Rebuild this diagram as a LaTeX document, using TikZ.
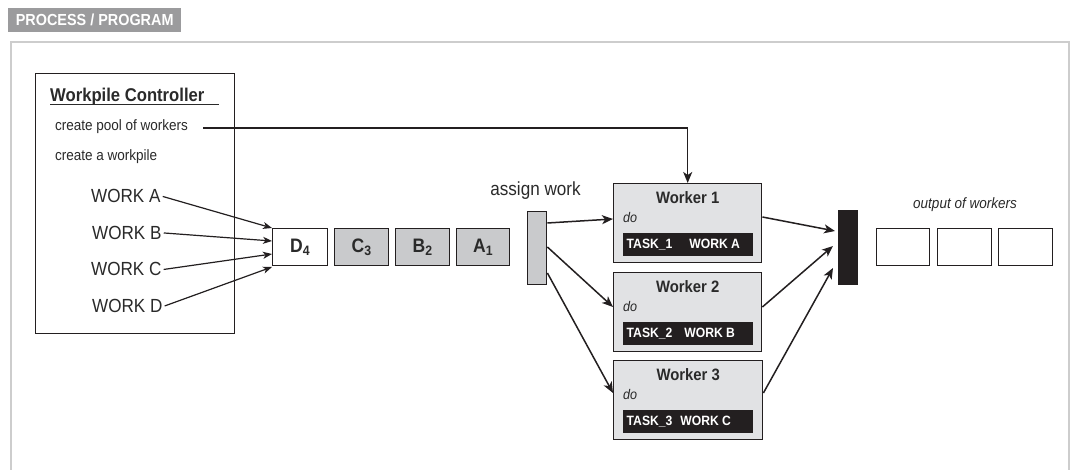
\documentclass[tikz,border=0pt]{standalone}
\usepackage{fontspec}
\setmainfont{Liberation Sans}[FakeStretch=0.9]
\usetikzlibrary{arrows.meta,calc}
\definecolor{ink}{HTML}{231F20}
\definecolor{txt}{HTML}{2A2A2A}
\definecolor{hdrgray}{HTML}{9B9B9D}
\definecolor{framegray}{HTML}{CDCDCD}
\definecolor{qgray}{HTML}{C9CACC}
\definecolor{wgray}{HTML}{E1E2E4}
\newcommand{\fs}[1]{\fontsize{#1}{#1}\selectfont}
\begin{document}
\begin{tikzpicture}[x=1pt,y=-1pt,
  boxst/.style={draw=ink, line width=1.4pt, inner sep=0pt, anchor=north west},
  lbl/.style={inner sep=0pt, text=txt},
  conn/.style={draw=ink, line width=1.5pt, -{Stealth[length=11pt,width=9pt,inset=3pt]}},
  connsm/.style={draw=ink, line width=1.2pt, -{Stealth[length=9pt,width=7pt,inset=2.5pt]}},
  qbox/.style={boxst, minimum height=37pt, font=\bfseries\fs{19.5}, text=txt},
  wbox/.style={boxst, fill=wgray, minimum width=148pt, minimum height=79pt},
  wtitle/.style={lbl, anchor=base, font=\bfseries\fs{16.5}},
  wdo/.style={lbl, anchor=base west, font=\itshape\fs{14}},
  taskbar/.style={fill=ink, inner sep=0pt, anchor=north west, minimum width=130pt, minimum height=23pt},
  tasktxt/.style={inner sep=0pt, anchor=west, text=white, font=\bfseries\fs{13.5}},
  worktxt/.style={lbl, anchor=base west, font=\fs{19}},
  small/.style={lbl, anchor=base west, font=\fs{15}}
]
\useasboundingbox (0,0) rectangle (1072,470);
\fill[white] (0,0) rectangle (1072,470);

% header
\node[fill=hdrgray, anchor=north west, minimum width=173pt, minimum height=24pt, inner sep=0pt,
      text=white, font=\bfseries\fs{16}] (hdr) at (8,8) {PROCESS / PROGRAM};
% frame
\draw[framegray, line width=2pt] (10.5,475) -- (10.5,42) -- (1069,42) -- (1069,475);

% controller
\node[boxst, minimum width=199pt, minimum height=260pt] (ctrl) at (35,73) {};
\node[lbl, anchor=base west, font=\bfseries\fs{18.5}] (ctitle) at (50,102) {Workpile Controller};
\coordinate (ulA) at (50,104.5);
\coordinate (ulB) at (219,104.5);
\draw[txt, line width=1.2pt] (ulA) -- (ulB);
\node[small] (pool) at (55,131) {create pool of workers};
\node[small] (pile) at (55,161) {create a workpile};
\node[worktxt] (wa) at (91,203) {WORK A};
\node[worktxt] (wb) at (92,239.5) {WORK B};
\node[worktxt] (wc) at (91,276) {WORK C};
\node[worktxt] (wd) at (92,312.5) {WORK D};

% queue
\node[qbox, minimum width=55pt, fill=white] (d4) at (272,228) {D\textsubscript{4}};
\node[qbox, minimum width=54pt, fill=qgray] (c3) at (334,228) {C\textsubscript{3}};
\node[qbox, minimum width=54pt, fill=qgray] (b2) at (395,228) {B\textsubscript{2}};
\node[qbox, minimum width=53pt, fill=qgray] (a1) at (456,228) {A\textsubscript{1}};

% assign
\node[boxst, fill=qgray, minimum width=19pt, minimum height=73pt] (assign) at (527,211) {};
\node[lbl, anchor=base, font=\fs{19}] (assignlbl) at (535.5,196) {assign work};

% workers
\node[wbox] (w1) at (613,183) {};
\node[wbox] (w2) at (613,272) {};
\node[wbox, minimum width=149pt] (w3) at (613,360) {};
\foreach \w/\n/\t in {w1/1/{TASK\_1\hspace{17pt}WORK A}, w2/2/{TASK\_2\hspace{12pt}WORK B}, w3/3/{TASK\_3\hspace{8pt}WORK C}}{
  \node[wtitle] (\w t) at ($(\w.north)+(0,21)$) {Worker \n};
  \node[wdo] (\w d) at ($(\w.north west)+(10,40)$) {do};
  \node[taskbar] (\w b) at ($(\w.north west)+(9.5,50)$) {};
  \node[tasktxt] (\w x) at ($(\w b.west)+(4,0)$) {\t};
}

% collector and output
\node[boxst, fill=ink, minimum width=19pt, minimum height=74pt] (coll) at (838,210) {};
\node[lbl, anchor=base, font=\itshape\fs{15}] (outlbl) at (965,209) {output of workers};
\node[boxst, minimum width=53pt, minimum height=37pt] (o1) at (876,228) {};
\node[boxst, minimum width=54pt, minimum height=37pt] (o2) at (937,228) {};
\node[boxst, minimum width=54pt, minimum height=37pt] (o3) at (998,228) {};

% connectors: work items to queue
\coordinate (qa) at ($(d4.north west)+(0,0)$);
\coordinate (qb) at ($(d4.north west)+(0,13)$);
\coordinate (qc) at ($(d4.north west)+(0,26)$);
\coordinate (qd) at ($(d4.north west)+(0,39)$);
\draw[connsm] ($(wa.east)+(2,0)$) -- (qa);
\draw[connsm] ($(wb.east)+(2,0)$) -- (qb);
\draw[connsm] ($(wc.east)+(2,0)$) -- (qc);
\draw[connsm] ($(wd.east)+(2,0)$) -- (qd);

% create pool -> worker 1
\coordinate (poolstart) at (203,128);
\draw[conn] (poolstart) -| (w1.north);

% assign -> workers
\draw[conn] ($(assign.north east)+(0,12)$) -- ($(w1.north west)+(0,36)$);
\draw[conn] ($(assign.north east)+(0,36)$) -- ($(w2.north west)+(0,35)$);
\draw[conn] ($(assign.north east)+(0,62)$) -- ($(w3.north west)+(0,33)$);

% workers -> collector
\draw[conn] ($(w1.north east)+(0,34)$) -- ($(coll.north west)+(-3,21)$);
\draw[conn] ($(w2.north east)+(0,35)$) -- ($(coll.north west)+(-5,36)$);
\draw[conn] ($(w3.north east)+(0,33)$) -- ($(coll.north west)+(-5,58)$);
\end{tikzpicture}
\end{document}
